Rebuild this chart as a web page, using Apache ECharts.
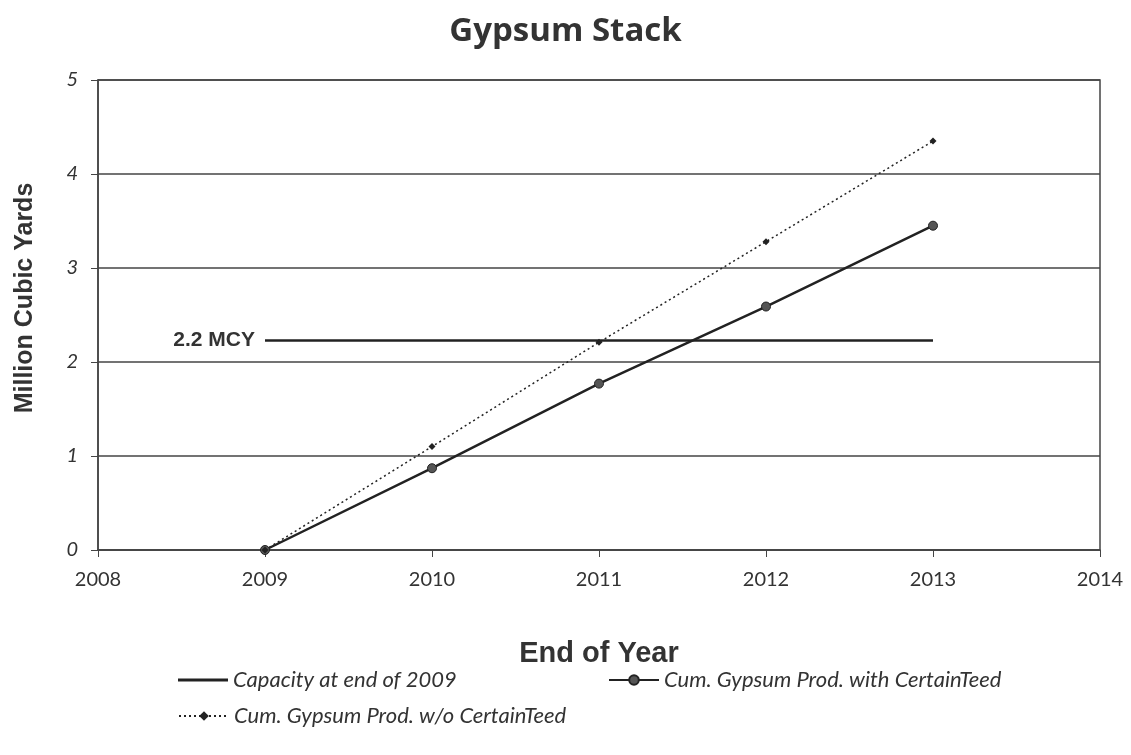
<!DOCTYPE html>
<html><head><meta charset="utf-8">
<script src="https://cdn.jsdelivr.net/npm/echarts@6/dist/echarts.min.js"></script>
<style>html,body{margin:0;padding:0;background:#fff}#c{width:1131px;height:755px}</style>
</head><body><div id="c"></div>
<script>
const years = [2009, 2010, 2011, 2012, 2013];
const withCT = [0, 0.87, 1.77, 2.59, 3.45];
const withoutCT = [0, 1.10, 2.21, 3.28, 4.35];
const capacityYears = [2009, 2013];
const capacityValue = 2.23;
const capacityLabel = '2.2 MCY';
const seriesNames = ['Capacity at end of 2009', 'Cum. Gypsum Prod. with CertainTeed', 'Cum. Gypsum Prod. w/o CertainTeed'];

const chart = echarts.init(document.getElementById('c'));
const ink = '#222';
const legendText = {fontFamily: 'Lato', fontStyle: 'italic', fontSize: 22, color: '#333'};
chart.setOption({
  animation: false,
  backgroundColor: '#fff',
  title: {text: 'Gypsum Stack', left: 'center', top: 10,
    textStyle: {fontFamily: 'Open Sans', fontWeight: 'bold', fontSize: 33, color: '#333'}},
  grid: {left: 98, right: 31, top: 80, bottom: 205, show: true, borderColor: '#444', borderWidth: 1.5},
  xAxis: {type: 'value', min: 2008, max: 2014, interval: 1,
    name: 'End of Year', nameLocation: 'middle', nameGap: 89,
    nameTextStyle: {fontFamily: 'Liberation Sans', fontWeight: 'bold', fontSize: 29, color: '#333'},
    axisLine: {lineStyle: {color: '#444', width: 1.5}},
    axisTick: {show: true, length: 7, lineStyle: {color: '#444'}},
    splitLine: {show: false},
    axisLabel: {margin: 20, fontFamily: 'Lato', fontSize: 20, color: '#333', formatter: v => String(v)}},
  yAxis: {type: 'value', min: 0, max: 5, interval: 1,
    name: 'Million Cubic Yards', nameLocation: 'middle', nameGap: 60,
    nameTextStyle: {fontFamily: 'Liberation Sans', fontWeight: 'bold', fontSize: 25, color: '#333', padding: [0, 0, 0, 34]},
    axisLine: {show: true, lineStyle: {color: '#444', width: 1.5}},
    axisTick: {show: true, length: 7, lineStyle: {color: '#444'}},
    splitLine: {lineStyle: {color: '#444', width: 1.5}},
    axisLabel: {margin: 20, fontFamily: 'Lato', fontStyle: 'italic', fontSize: 20, color: '#333'}},
  legend: [
    {data: [{name: seriesNames[0], icon: 'rect'}], left: 173, top: 664, itemWidth: 50, itemHeight: 3, textStyle: legendText},
    {data: [seriesNames[1]], left: 603, top: 664, itemWidth: 50, itemHeight: 12, textStyle: legendText},
    {data: [seriesNames[2]], left: 173, top: 700, itemWidth: 50, itemHeight: 12, textStyle: legendText}
  ],
  series: [
    {name: seriesNames[0], type: 'line', data: capacityYears.map(y => [y, capacityValue]),
      showSymbol: false, symbol: 'none', lineStyle: {color: ink, width: 2.5}, itemStyle: {color: ink},
      label: {show: false}, z: 3,
      markPoint: {symbol: 'circle', symbolSize: 0,
        data: [{coord: [capacityYears[0], capacityValue], value: capacityLabel}],
        label: {show: true, position: 'left', distance: 10, formatter: capacityLabel,
          fontFamily: 'Liberation Sans', fontWeight: 'bold', fontSize: 21, color: '#333'}}},
    {name: seriesNames[1], type: 'line', data: years.map((y, i) => [y, withCT[i]]),
      symbol: 'circle', symbolSize: 9, lineStyle: {color: ink, width: 2.5},
      itemStyle: {color: '#555', borderColor: ink, borderWidth: 1}, z: 4},
    {name: seriesNames[2], type: 'line', data: years.map((y, i) => [y, withoutCT[i]]),
      symbol: 'diamond', symbolSize: 7, lineStyle: {color: ink, width: 1.5, type: [2, 3]},
      itemStyle: {color: ink}, z: 4}
  ]
});
</script></body></html>
